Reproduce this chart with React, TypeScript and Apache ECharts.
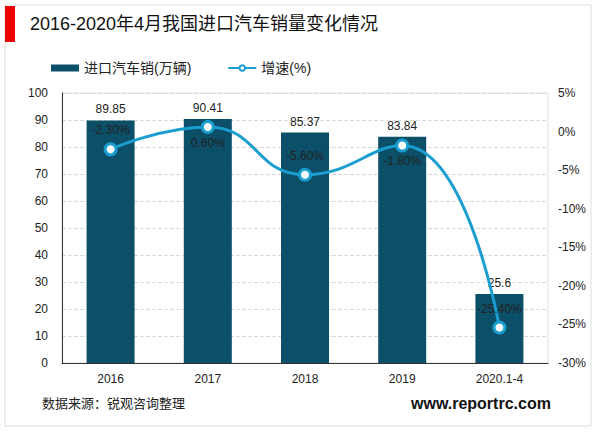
import React, { useEffect, useRef } from "react";
import * as echarts from "echarts";

const categories = ["2016", "2017", "2018", "2019", "2020.1-4"];
const salesValues = [89.85, 90.41, 85.37, 83.84, 25.6];
const growthValues = [-2.3, 0.6, -5.6, -1.8, -25.4];
const growthLabelPositions = ["top", "bottom", "top", "bottom", "top"];

export default function App() {
  const ref = useRef<HTMLDivElement>(null);
  useEffect(() => {
    const chart = echarts.init(ref.current!, null, { renderer: "svg" });
    const font = "Arial, 'Liberation Sans', 'Noto Sans CJK SC', sans-serif";
    chart.setOption({
      animation: false,
      textStyle: { fontFamily: font },
      graphic: [
        { type: "rect", shape: { x: 5, y: 5, width: 586, height: 421 }, style: { fill: "none", stroke: "#dddddd", lineWidth: 1 } },
        { type: "rect", shape: { x: 5, y: 6, width: 10, height: 36 }, style: { fill: "#ee0000" } },
        { type: "text", x: 30, y: 15, style: { text: "2016-2020年4月我国进口汽车销量变化情况", fontSize: 18, fill: "#111", fontFamily: font } },
        { type: "text", x: 42, y: 397, style: { text: "数据来源：锐观咨询整理", fontSize: 13, fill: "#222", fontFamily: font } },
        { type: "text", x: 411, y: 395, style: { text: "www.reportrc.com", fontSize: 16, fontWeight: "bold", fill: "#111", fontFamily: font } },
      ],
      legend: {
        left: 46,
        top: 56,
        itemGap: 36,
        itemWidth: 28,
        itemHeight: 7,
        textStyle: { fontSize: 14, color: "#222" },
        data: [
          { name: "进口汽车销(万辆)", icon: "rect" },
          { name: "增速(%)" },
        ],
      },
      grid: { left: 62, right: 52, top: 93, bottom: 70, show: true, borderColor: "#dddddd", borderWidth: 1 },
      xAxis: {
        type: "category",
        data: categories,
        axisLine: { lineStyle: { color: "#333" } },
        axisTick: { show: false },
        axisLabel: { color: "#222", fontSize: 12, margin: 10 },
      },
      yAxis: [
        {
          type: "value",
          min: 0,
          max: 100,
          interval: 10,
          axisLine: { show: true, lineStyle: { color: "#333" } },
          axisTick: { show: false },
          axisLabel: { color: "#222", fontSize: 12, margin: 14 },
          splitLine: { lineStyle: { type: "dashed", color: "#d9d9d9" } },
        },
        {
          type: "value",
          min: -30,
          max: 5,
          interval: 5,
          axisLine: { show: false },
          axisTick: { show: false },
          axisLabel: { color: "#222", fontSize: 12, formatter: "{value}%", margin: 10 },
          splitLine: { show: false },
        },
      ],
      series: [
        {
          name: "进口汽车销(万辆)",
          type: "bar",
          data: salesValues,
          barWidth: 48,
          itemStyle: { color: "#0c4f68" },
          label: { show: true, position: "top", color: "#222", fontSize: 12 },
        },
        {
          name: "增速(%)",
          type: "line",
          yAxisIndex: 1,
          smooth: true,
          data: growthValues.map((v, i) => ({
            value: v,
            label: {
              position: growthLabelPositions[i],
              distance: growthLabelPositions[i] === "bottom" ? 3 : 6,
            },
          })),
          symbol: "circle",
          symbolSize: 11,
          lineStyle: { color: "#1a9ed0", width: 3 },
          itemStyle: { color: "#ffffff", borderColor: "#1a9ed0", borderWidth: 3 },
          label: {
            show: true,
            color: "#222",
            fontSize: 12,
            formatter: (p: any) => p.value.toFixed(2) + "%",
          },
        },
      ],
    });
    return () => chart.dispose();
  }, []);
  return <div ref={ref} style={{ position: "absolute", left: 0, top: 0, width: 600, height: 433 }} />;
}
